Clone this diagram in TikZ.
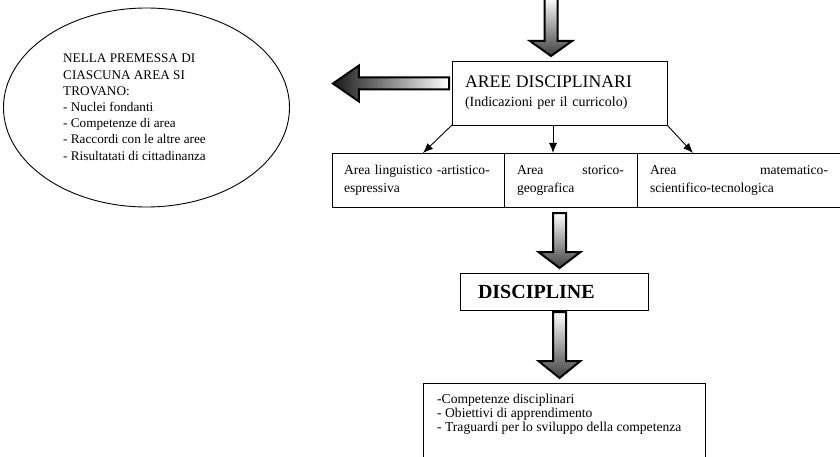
\documentclass[tikz,border=0pt]{standalone}
\usepackage{fontspec}
\setmainfont{Liberation Serif}
\usetikzlibrary{shapes.geometric,arrows.meta,positioning,calc}

\begin{document}
\begin{tikzpicture}[x=1pt,y=1pt,yscale=-1,xscale=1,
  box/.style={draw=black,line width=0.9pt,rectangle,outer sep=0pt},
  rowbox/.style={box,anchor=north west,minimum height=54,inner xsep=13pt,inner ysep=0pt,align=left,font=\fontsize{13.6}{18}\selectfont},
  vblock/.style={draw=black,line width=2pt,top color=white,bottom color=black!75},
  hblock/.style={draw=black,line width=2pt,left color=black!90,right color=white},
  thinarrow/.style={draw=black,line width=0.9pt,-{Latex[length=10pt,width=8pt]}}]
\useasboundingbox (0,0) rectangle (840,457);
% Ellipse
\node[draw=black,line width=0.9pt,ellipse,minimum width=286,minimum height=199,inner sep=0pt] (premessa) at (146.5,107.5) {};
% Text Node
\node[anchor=north west,inner sep=0pt,align=left,font=\fontsize{13.2}{16.2}\selectfont] (premtext) at (63,54) {NELLA PREMESSA DI\\CIASCUNA AREA SI\\TROVANO:\\- Nuclei fondanti\\- Competenze di area\\- Raccordi con le altre aree\\- Risultatati di cittadinanza};
% Boxes
\node[box,anchor=north west,minimum height=64,text width=189,inner xsep=13pt,align=left,font=\fontsize{14}{19}\selectfont] (aree) at (452,61) {{\fontsize{17.7}{19}\selectfont AREE DISCIPLINARI}\\(Indicazioni per il curricolo)};
\node[rowbox,text width=148,inner xsep=12pt] (area1) at (332,153) {Area linguistico -artistico-\\espressiva};
\node[rowbox,text width=107,right=0pt of area1] (area2) {Area \hfill storico-\\geografica};
\node[rowbox,text width=178,right=0pt of area2] (area3) {Area \hfill matematico-\\scientifico-tecnologica};
\node[box,anchor=north west,minimum width=188,minimum height=37,text width=152,inner xsep=18pt,align=left,font=\fontsize{20}{24}\selectfont\bfseries] (disc) at (460,273) {DISCIPLINE};
\node[box,anchor=north west,minimum width=282,minimum height=95] (compet) at (423,383) {};
% Text Node
\node[anchor=north west,inner sep=0pt,align=left,font=\fontsize{13.6}{14}\selectfont] (comptext) at (437,394) {-Competenze disciplinari\\- Obiettivi di apprendimento\\- Traguardi per lo sviluppo della competenza};
% Coordinates
\coordinate (topin) at (551,-3);
\coordinate (mid) at (559.5,0);
\coordinate (lrow) at (0,83.5);
\coordinate (tip1) at ($(topin |- aree.north)+(0,-5)$);
\coordinate (start2) at ($(mid |- area2.south)+(0,6)$);
\coordinate (tip2) at ($(mid |- disc.north)+(0,-5)$);
\coordinate (start3) at ($(mid |- disc.south)+(0,2)$);
\coordinate (tip3) at ($(mid |- compet.north)+(0,-5)$);
\coordinate (start4) at ($(lrow -| aree.west)+(-3,0)$);
\coordinate (tip4) at ($(lrow -| premessa.east)+(43,0)$);
%Block Arrows
\path[vblock] ($(topin)+(-6.5,0)$) -- ($(topin)+(6.5,0)$) -- ($(tip1)+(6.5,-15)$) -- ($(tip1)+(21,-15)$) -- (tip1) -- ($(tip1)+(-21,-15)$) -- ($(tip1)+(-6.5,-15)$) -- cycle;
\path[vblock] ($(start2)+(-6.5,0)$) -- ($(start2)+(6.5,0)$) -- ($(tip2)+(6.5,-16)$) -- ($(tip2)+(21,-16)$) -- (tip2) -- ($(tip2)+(-21,-16)$) -- ($(tip2)+(-6.5,-16)$) -- cycle;
\path[vblock] ($(start3)+(-6.5,0)$) -- ($(start3)+(6.5,0)$) -- ($(tip3)+(6.5,-17)$) -- ($(tip3)+(21,-17)$) -- (tip3) -- ($(tip3)+(-21,-17)$) -- ($(tip3)+(-6.5,-17)$) -- cycle;
\path[hblock] ($(start4)+(0,-6)$) -- ($(start4)+(0,6)$) -- ($(tip4)+(26,6)$) -- ($(tip4)+(26,18)$) -- (tip4) -- ($(tip4)+(26,-18)$) -- ($(tip4)+(26,-6)$) -- cycle;
%Straight Lines
\draw[thinarrow] (aree.south west) -- ([xshift=91pt]area1.north west);
\draw[thinarrow] ($(aree.south)+(-6.5,0)$) -- ($(aree.south |- area2.north)+(-6.5,0)$);
\draw[thinarrow] (aree.south east) -- ([xshift=56pt]area3.north west);
\end{tikzpicture}
\end{document}
